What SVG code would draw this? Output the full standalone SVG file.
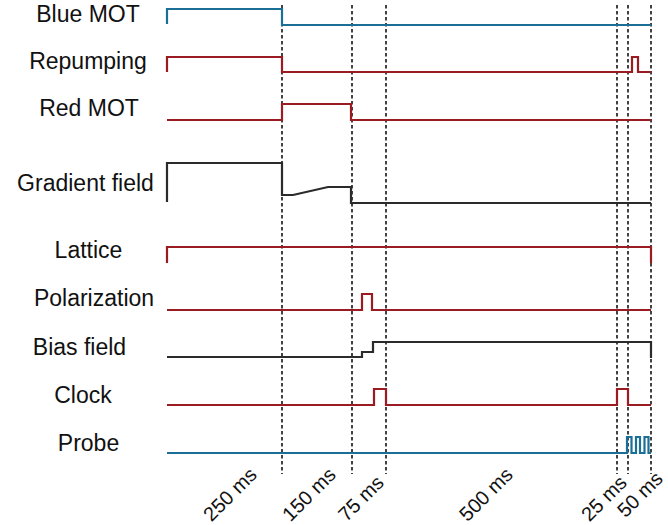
<svg xmlns="http://www.w3.org/2000/svg" width="668" height="525" viewBox="0 0 668 525">
<style>
.lbl{font-family:"Liberation Sans",Arial,sans-serif;font-size:23px;fill:#111;text-anchor:middle}
.t{font-family:"Liberation Sans",Arial,sans-serif;font-size:20px;fill:#111;text-anchor:end}
.sig{fill:none;stroke-width:2.2;stroke-linejoin:miter;stroke-linecap:butt}
.blue{stroke:#1b6e95}
.red{stroke:#9a1c22}
.blk{stroke:#2b2b2b}
.dash{stroke:#222;stroke-width:1.7;stroke-dasharray:3.5 2.5;fill:none}
</style>
<rect width="668" height="525" fill="#fff"/>
<g id="time-markers">
<line class="dash" x1="282" y1="5" x2="282" y2="474"/>
<line class="dash" x1="352" y1="5" x2="352" y2="474"/>
<line class="dash" x1="386" y1="5" x2="386" y2="474"/>
<line class="dash" x1="617" y1="5" x2="617" y2="474"/>
<line class="dash" x1="628" y1="5" x2="628" y2="474"/>
<line class="dash" x1="651" y1="5" x2="651" y2="474"/>
</g>
<g id="blue-mot">
<text class="lbl" x="88" y="22">Blue MOT</text>
<path class="sig blue" d="M167,24 V9 H282 V25 H651"/>
</g>
<g id="repumping">
<text class="lbl" x="88" y="69">Repumping</text>
<path class="sig red" d="M167,72 V57 H282 V72 H632 V57 H638 V72 H651"/>
</g>
<g id="red-mot">
<text class="lbl" x="89" y="116">Red MOT</text>
<path class="sig red" d="M167,120 H282 V104 H351 V120 H651"/>
</g>
<g id="gradient-field">
<text class="lbl" x="85.5" y="191">Gradient field</text>
<path class="sig blk" d="M167,202 V163 H282 V195 H293 L328,187 H351 V203 H651"/>
</g>
<g id="lattice">
<text class="lbl" x="88.5" y="258">Lattice</text>
<path class="sig red" d="M167,263 V247 H651 V263"/>
</g>
<g id="polarization">
<text class="lbl" x="94" y="306">Polarization</text>
<path class="sig red" d="M167,310 H362 V294 H372 V310 H651"/>
</g>
<g id="bias-field">
<text class="lbl" x="79.5" y="355">Bias field</text>
<path class="sig blk" d="M167,357 H362 V352 H373 V342 H651 V358"/>
</g>
<g id="clock">
<text class="lbl" x="83" y="403">Clock</text>
<path class="sig red" d="M167,405 H374 V389 H386 V405 H617 V389 H628 V405 H651"/>
</g>
<g id="probe">
<text class="lbl" x="88.5" y="451">Probe</text>
<path class="sig blue" d="M167,453 H627 V437 H631.5 V453 H636 V437 H640 V453 H644.5 V437 H648.5 V453 H651"/>
</g>
<g id="durations">
<text class="t" transform="translate(258,476) rotate(-45)">250 ms</text>
<text class="t" transform="translate(337,476) rotate(-45)">150 ms</text>
<text class="t" transform="translate(385,484) rotate(-45)">75 ms</text>
<text class="t" transform="translate(514,476) rotate(-45)">500 ms</text>
<text class="t" transform="translate(628,484) rotate(-45)">25 ms</text>
<text class="t" transform="translate(664,480) rotate(-45)">50 ms</text>
</g>
</svg>
